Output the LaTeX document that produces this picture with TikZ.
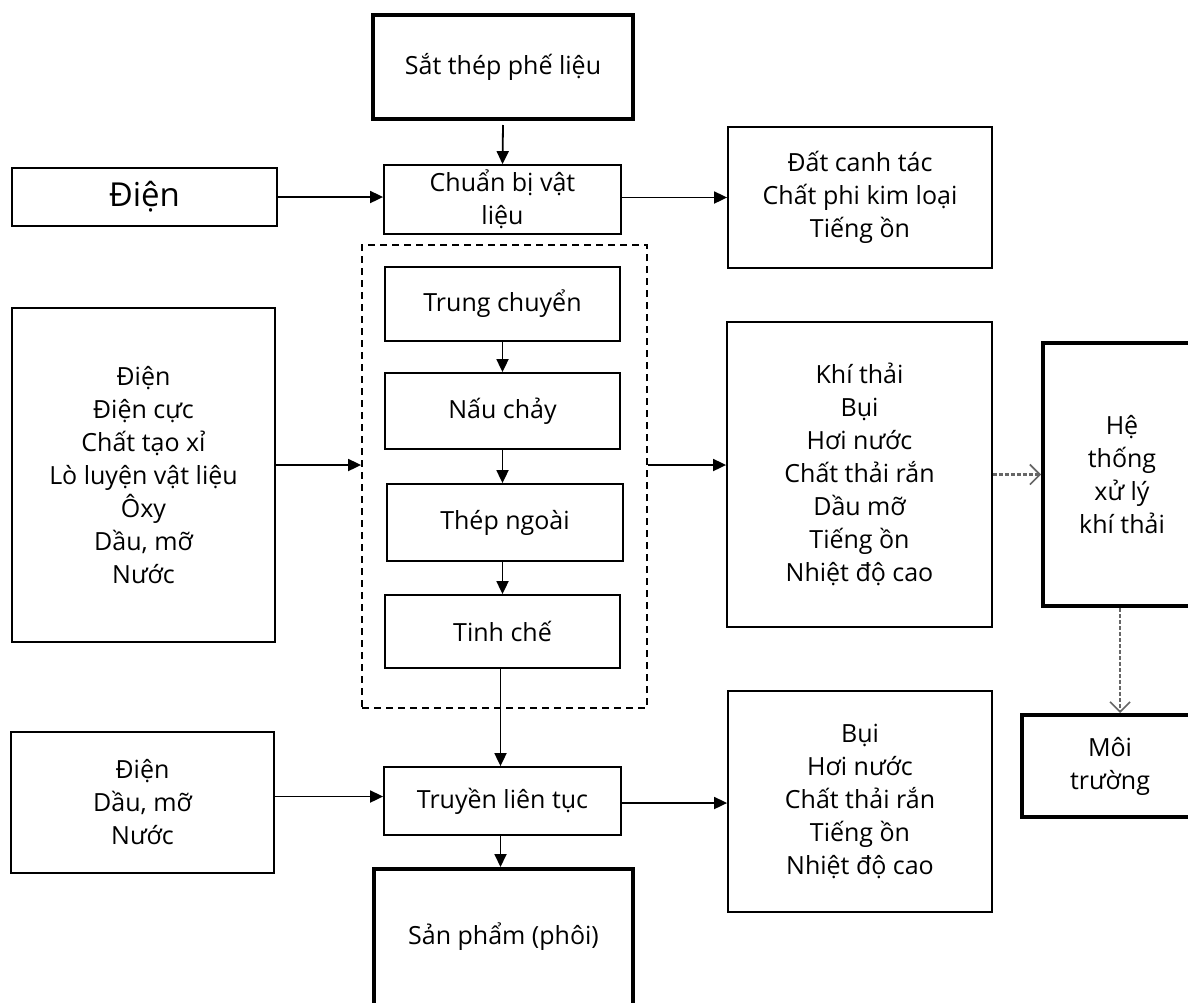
\documentclass[tikz,border=0pt]{standalone}
\usepackage{fontspec}
\setmainfont{Open Sans}
\usetikzlibrary{arrows.meta}
\begin{document}
\begin{tikzpicture}[x=1pt,y=-1pt,
  box/.style={draw, line width=1.8pt, inner sep=0pt, align=center, font=\fontsize{25}{33}\selectfont},
  thickbox/.style={box, line width=4pt},
  grpbox/.style={draw, line width=1.8pt, dash pattern=on 7pt off 5pt, inner sep=0pt},
  arr/.style={line width=1.8pt, -{Triangle[length=13pt,width=12pt]}},
  garr/.style={line width=2.5pt, draw=black!60, dash pattern=on 4pt off 2pt, -{Straight Barb[length=10pt,width=20pt,line width=1.6pt]}}]
\path[use as bounding box] (0,0) rectangle (1188,1002);
\clip (0,0) rectangle (1188,1002);
\fill[white] (0,0) rectangle (1188,1002);
% nodes
\node[thickbox, minimum width=260pt, minimum height=104pt] (sat) at (503,67) {Sắt thép phế liệu};
\node[box, minimum width=265pt, minimum height=58pt, font=\fontsize{33}{38}\selectfont] (dien1) at (144.5,197) {Điện};
\node[box, minimum width=237pt, minimum height=69pt] (cb) at (502.5,199.5) {Chuẩn bị vật\\liệu};
\node[box, minimum width=264pt, minimum height=141pt] (dat) at (860,197.5) {Đất canh tác\\Chất phi kim loại\\Tiếng ồn};
\node[grpbox, minimum width=285pt, minimum height=463pt] (grp) at (504.5,476.5) {};
\node[box, minimum width=235pt, minimum height=74pt] (tc) at (502.5,304) {Trung chuyển};
\node[box, minimum width=235pt, minimum height=76pt] (nc) at (502.5,411) {Nấu chảy};
\node[box, minimum width=236pt, minimum height=77pt] (tn) at (505,522.5) {Thép ngoài};
\node[box, minimum width=235pt, minimum height=73pt] (tch) at (502.5,631.5) {Tinh chế};
\node[box, minimum width=263pt, minimum height=334pt] (inp) at (143.5,475) {Điện\\Điện cực\\Chất tạo xỉ\\Lò luyện vật liệu\\Ôxy\\Dầu, mỡ\\Nước};
\node[box, minimum width=265pt, minimum height=305pt] (kt) at (859.5,474.5) {Khí thải\\Bụi\\Hơi nước\\Chất thải rắn\\Dầu mỡ\\Tiếng ồn\\Nhiệt độ cao};
\node[thickbox, minimum width=158pt, minimum height=263pt] (ht) at (1122,474.5) {Hệ\\thống\\xử lý\\khí thải};
\node[thickbox, minimum width=176pt, minimum height=102pt] (mt) at (1110,766) {Môi\\trường};
\node[box, minimum width=263pt, minimum height=141pt] (inp2) at (142.5,802.5) {Điện\\Dầu, mỡ\\Nước};
\node[box, minimum width=237pt, minimum height=68pt] (tl) at (502.5,801) {Truyền liên tục};
\node[box, minimum width=264pt, minimum height=221pt] (bui) at (860,801.5) {Bụi\\Hơi nước\\Chất thải rắn\\Tiếng ồn\\Nhiệt độ cao};
\node[thickbox, minimum width=259pt, minimum height=136pt] (sp) at (503.5,937) {Sản phẩm (phôi)};
% connectors
\draw[arr] ([yshift=-4pt]sat.south) -- (cb.north);
\draw[arr] (dien1.east) -- (dien1.east -| cb.west);
\draw[arr] ([yshift=2pt]cb.east) -- ([yshift=2pt]cb.east -| dat.west);
\draw[arr] ([yshift=10pt]inp.east) -- ([yshift=10pt]inp.east -| grp.west);
\draw[arr] ([yshift=10pt]inp.east -| grp.east) -- ([yshift=10pt]inp.east -| kt.west);
\draw[arr] (tc.south) -- (nc.north);
\draw[arr] (nc.south) -- (nc.south |- tn.north);
\draw[arr] (nc.south |- tn.south) -- (tch.north);
\draw[arr] ([xshift=-2pt]tch.south) -- ([xshift=-2pt]tch.south |- tl.north);
\draw[arr] ([yshift=6pt]inp2.east) -- ([yshift=6pt]inp2.east -| tl.west);
\draw[arr] ([yshift=-2pt]tl.east) -- ([yshift=-2pt]tl.east -| bui.west);
\draw[arr] ([xshift=-2pt]tl.south) -- ([xshift=-2pt]tl.south |- sp.north);
\draw[garr] (kt.east) -- (kt.east -| ht.west);
\draw[garr] ([xshift=-2pt]ht.south) -- ([xshift=-2pt]ht.south |- mt.north);
\end{tikzpicture}
\end{document}
